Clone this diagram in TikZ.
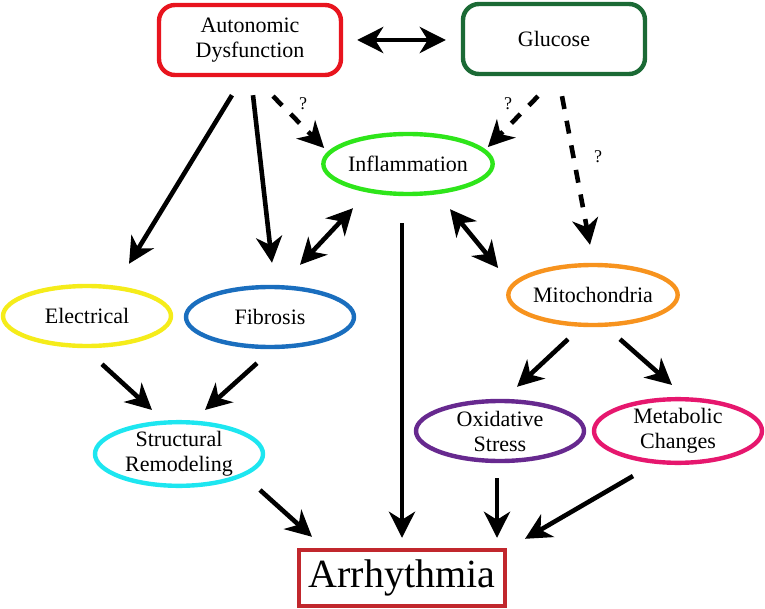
\documentclass[tikz,border=0pt]{standalone}
\usepackage{fontspec}
\setmainfont{Liberation Serif}
\usepackage{xcolor}
\usepackage{tikz}
\usetikzlibrary{positioning}
\usetikzlibrary{shapes,arrows,arrows.meta,positioning,fit}
\definecolor{adred}{HTML}{E8141E}
\definecolor{glgreen}{HTML}{1B6A35}
\definecolor{infgreen}{HTML}{2EE51A}
\definecolor{elyellow}{HTML}{F5EC1A}
\definecolor{fibblue}{HTML}{1A6EBE}
\definecolor{strcyan}{HTML}{1DE6F0}
\definecolor{mitorange}{HTML}{F7931E}
\definecolor{oxpurple}{HTML}{67298F}
\definecolor{metpink}{HTML}{E6176E}
\definecolor{arrred}{HTML}{C1272D}
\tikzstyle{block} = [rectangle, draw, line width=2.2pt, fill=white, text centered, align=center,
rounded corners=8pt, minimum width=91pt, minimum height=35pt, font=\fontsize{11}{12.5}\selectfont]
\tikzstyle{oval} = [ellipse, draw, line width=2.2pt, fill=white, align=center, inner sep=0pt,
minimum width=84pt, minimum height=30pt, font=\fontsize{11}{12.5}\selectfont]
\tikzstyle{line} = [draw, line width=2.3pt, -{Stealth[length=13pt,width=13pt,inset=4pt]}]
\tikzstyle{dline} = [draw, line width=2.3pt, {Stealth[length=13pt,width=13pt,inset=4pt]}-{Stealth[length=13pt,width=13pt,inset=4pt]}]
\tikzstyle{qline} = [line, dash pattern=on 6.5pt off 6pt]
\tikzstyle{qmark} = [font=\fontsize{9}{10}\selectfont]

\begin{document}
\begin{tikzpicture}[x=0.5pt, y=-0.5pt]
    \useasboundingbox (0,0) rectangle (765,609);
    % nodes
    \node [block, draw=adred] (autodys) at (250,40) {Autonomic\\Dysfunction};
    \node [block, draw=glgreen] (glucose) at (554,39) {Glucose};
    \node [oval, draw=infgreen] (inflam) at (408,164) {Inflammation};
    \node [oval, draw=elyellow] (electr) at (87,316) {Electrical};
    \node [oval, draw=fibblue] (fibro) at (270,317) {Fibrosis};
    \node [oval, draw=mitorange] (mito) at (593,295) {Mitochondria};
    \node [oval, draw=strcyan] (struct) at (179,454) {Structural\\Remodeling};
    \node [oval, draw=oxpurple] (oxid) at (500,431) {Oxidative\\Stress};
    \node [oval, draw=metpink] (metab) at (678,431) {Metabolic\\Changes};
    \node [rectangle, draw=arrred, line width=2.2pt, minimum width=103pt, minimum height=28pt,
      inner sep=0pt, font=\fontsize{20}{24}\selectfont] (arrh) at (402,578) {Arrhythmia};
    \node [qmark] (q1) at (303,104) {?};
    \node [qmark] (q2) at (508,104) {?};
    \node [qmark] (q3) at (598,157) {?};

    % edges
    \path [dline] ([shift={(14,0)}]autodys.east) -- ([shift={(-15,1)}]glucose.west);
    \path [line] ([shift={(-18,18)}]autodys.south) -- ([shift={(42,-20)}]electr.north);
    \path [line] ([shift={(3,18)}]autodys.south) -- ([shift={(2,-22)}]fibro.north);
    \path [qline] ([shift={(23,19)}]autodys.south) -- ([shift={(3,-16)}]inflam.west);
    \path [qline] ([shift={(-16,20)}]glucose.south) -- ([shift={(-7,-17)}]inflam.east);
    \path [qline] ([shift={(8,20)}]glucose.south) -- ([shift={(-3,-18)}]mito.north);
    \path [dline] ([shift={(30,-20)}]fibro.north) -- ([shift={(-55,12)}]inflam.south);
    \path [dline] ([shift={(42,13)}]inflam.south) -- ([shift={(-8,-27)}]mito.west);
    \path [line] ([shift={(-6,27)}]inflam.south) -- ([shift={(0,-10)}]arrh.north);
    \path [line] ([shift={(15,16)}]electr.south) -- ([shift={(-27,-10)}]struct.north);
    \path [line] ([shift={(-13,14)}]fibro.south) -- ([shift={(26,-10)}]struct.north);
    \path [line] ([shift={(81,2)}]struct.south) -- ([shift={(-90,-11)}]arrh.north);
    \path [line] ([shift={(-25,12)}]mito.south) -- ([shift={(17,-12)}]oxid.north);
    \path [line] ([shift={(27,12)}]mito.south) -- ([shift={(-6,-12)}]metab.north);
    \path [line] ([shift={(-3,15)}]oxid.south) -- ([shift={(95,-10)}]arrh.north);
    \path [line] ([shift={(-45,11)}]metab.south) -- ([shift={(123,-9)}]arrh.north);

  \end{tikzpicture}
\end{document}
